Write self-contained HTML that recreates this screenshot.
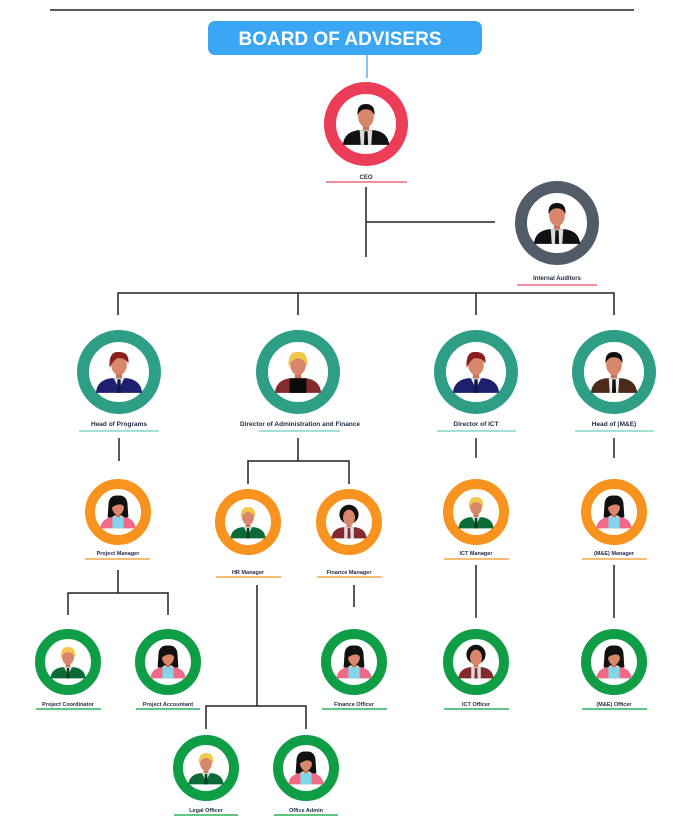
<!DOCTYPE html>
<html><head><meta charset="utf-8"><style>
html,body{margin:0;padding:0;background:#fff;}
svg{display:block}
text{font-family:"Liberation Sans",sans-serif;font-weight:bold;fill:#1f2a44;text-anchor:middle}
</style></head><body>
<svg width="687" height="818" viewBox="0 0 687 818" xmlns="http://www.w3.org/2000/svg">
<defs>
<g id="mblack">
 <rect x="-3" y="0" width="6" height="6" fill="#c87658"/>
 <path d="M-22,18 Q-21,6 -8,4 L8,4 Q21,6 22,18 Z" fill="#111"/>
 <path d="M-6,4 L6,4 L5,18 L-5,18 Z" fill="#ddd"/>
 <path d="M-1.5,5 L1.5,5 L2,18 L-2,18Z" fill="#111"/>
 <ellipse cx="0" cy="-9" rx="7.5" ry="10" fill="#d9876a"/>
 <path d="M-8,-10 Q-9,-21 0,-21 Q9,-21 8,-10 Q6,-16 0,-16 Q-6,-16 -8,-10Z" fill="#111"/>
</g>
<g id="mnavy">
 <rect x="-3" y="0" width="6" height="6" fill="#c87658"/>
 <path d="M-22,18 Q-21,6 -8,4 L8,4 Q21,6 22,18 Z" fill="#1e1f6e"/>
 <path d="M-5,4 L5,4 L0,14 Z" fill="#eee"/>
 <path d="M-1.5,5 L1.5,5 L2,18 L-2,18Z" fill="#111848"/>
 <ellipse cx="0" cy="-9" rx="7.5" ry="10" fill="#d9876a"/>
 <path d="M-9,-6 Q-10,-22 0,-21 Q10,-21 9,-10 Q6,-16 -2,-15 Q-6,-12 -9,-6Z" fill="#8a1f1f"/>
</g>
<g id="mblond">
 <rect x="-3" y="0" width="6" height="6" fill="#c87658"/>
 <path d="M-22,18 Q-21,6 -8,4 L8,4 Q21,6 22,18 Z" fill="#832a2e"/>
 <path d="M-8,4 L8,4 L8,18 L-8,18 Z" fill="#0a0a0a"/>
 <ellipse cx="0" cy="-9" rx="7.5" ry="10" fill="#d9876a"/>
 <path d="M-9,-6 Q-10,-22 0,-21 Q10,-22 9,-6 Q7,-14 0,-15 Q-7,-14 -9,-6Z" fill="#f2c84b"/>
</g>
<g id="mbrown">
 <rect x="-3" y="0" width="6" height="6" fill="#c87658"/>
 <path d="M-22,18 Q-21,6 -8,4 L8,4 Q21,6 22,18 Z" fill="#4a2a1a"/>
 <path d="M-5,4 L5,4 L4,18 L-4,18 Z" fill="#eee"/>
 <path d="M-1.5,5 L1.5,5 L2,18 L-2,18Z" fill="#111"/>
 <ellipse cx="0" cy="-9" rx="7.5" ry="10" fill="#d9876a"/>
 <path d="M-8,-10 Q-9,-21 0,-21 Q9,-21 8,-10 Q6,-16 0,-16 Q-6,-16 -8,-10Z" fill="#111"/>
</g>
<g id="mgreen">
 <rect x="-3" y="0" width="6" height="6" fill="#c87658"/>
 <path d="M-22,18 Q-21,6 -8,4 L8,4 Q21,6 22,18 Z" fill="#0a6b36"/>
 <path d="M-5,4 L5,4 L0,14 Z" fill="#eee"/>
 <path d="M-1.5,5 L1.5,5 L2,18 L-2,18Z" fill="#073d20"/>
 <ellipse cx="0" cy="-9" rx="7.5" ry="10" fill="#d9876a"/>
 <path d="M-9,-6 Q-10,-22 0,-21 Q10,-22 9,-8 Q6,-15 0,-15 Q-7,-14 -9,-6Z" fill="#f2c84b"/>
</g>
<g id="mmaroon">
 <rect x="-3" y="0" width="6" height="6" fill="#c87658"/>
 <path d="M-22,18 Q-21,6 -8,4 L8,4 Q21,6 22,18 Z" fill="#832a2e"/>
 <path d="M-6,4 L6,4 L6,18 L-6,18 Z" fill="#ddd"/>
 <path d="M-1.5,5 L1.5,5 L2,18 L-2,18Z" fill="#832a2e"/>
 <circle cx="0" cy="-12" r="12" fill="#111"/>
 <ellipse cx="0" cy="-8" rx="7.5" ry="10" fill="#d9876a"/>
</g>
<g id="fpink">
 <path d="M-12,-10 Q-12,-24 0,-23 Q12,-24 12,-10 L13,4 Q8,6 5,2 L-5,2 Q-8,6 -13,4Z" fill="#111"/>
 <rect x="-3" y="0" width="6" height="6" fill="#c87658"/>
 <path d="M-22,18 Q-21,6 -8,4 L8,4 Q21,6 22,18 Z" fill="#ef6a86"/>
 <path d="M-7,4 L7,4 L7,18 L-7,18 Z" fill="#82d6ea"/>
 <ellipse cx="0" cy="-9" rx="7.5" ry="10" fill="#d9876a"/>
 <path d="M-8,-8 Q-9,-20 0,-19 Q9,-20 8,-8 Q4,-16 -8,-8Z" fill="#111"/>
</g>
</defs>

<line x1="50" y1="10" x2="634" y2="10" stroke="#222" stroke-width="1.5"/>
<rect x="208" y="21" width="274" height="34" rx="7" fill="#3ba6f3"/>
<text x="340" y="45" style="font-size:19px;fill:#fff">BOARD OF ADVISERS</text>
<line x1="367" y1="55" x2="367" y2="78" stroke="#5aaff0" stroke-width="1.5"/>

<g stroke="#222" stroke-width="1.5" fill="none">
 <path d="M366,187 V257 M366,222 H495"/>
 <path d="M118,315 V293 H614 V315 M298,293 V315 M476,293 V315"/>
 <path d="M119,438 V461 M298,438 V461 M248,484 V461 H349 V484 M476,438 V458 M614,438 V458"/>
 <path d="M118,570 V593 M68,615 V593 H168 V615"/>
 <path d="M257,585 V706 M206,729 V706 H306 V729"/>
 <path d="M354,585 V607 M476,565 V618 M614,565 V618"/>
</g>

<!-- CEO -->
<circle cx="366" cy="124" r="36" fill="#fff" stroke="#ec3d58" stroke-width="12"/>
<use href="#mblack" transform="translate(366,126) scale(1.05)"/>
<text x="366" y="179" style="font-size:6px">CEO</text>
<line x1="326" y1="182" x2="407" y2="182" stroke="#f0697e" stroke-width="1.5"/>

<circle cx="557" cy="223" r="36" fill="#fff" stroke="#515c68" stroke-width="12"/>
<use href="#mblack" transform="translate(557,225) scale(1.05)"/>
<text x="557" y="280" style="font-size:6px">Internal Auditors</text>
<line x1="517" y1="285" x2="597" y2="285" stroke="#f0697e" stroke-width="1.5"/>

<!-- row 2 -->
<g fill="#fff" stroke="#2e9e86" stroke-width="12">
 <circle cx="119" cy="372" r="36"/><circle cx="298" cy="372" r="36"/>
 <circle cx="476" cy="372" r="36"/><circle cx="614" cy="372" r="36"/>
</g>
<use href="#mnavy" transform="translate(119,374) scale(1.05)"/>
<use href="#mblond" transform="translate(298,374) scale(1.05)"/>
<use href="#mnavy" transform="translate(476,374) scale(1.05)"/>
<use href="#mbrown" transform="translate(614,374) scale(1.05)"/>
<g style="font-size:6.5px">
<text x="119" y="426">Head of Programs</text>
<text x="300" y="426">Director of Administration and Finance</text>
<text x="476" y="426">Director of ICT</text>
<text x="614" y="426">Head of (M&amp;E)</text>
</g>
<g stroke="#7ed8cc" stroke-width="1.5">
<line x1="79" y1="431" x2="159" y2="431"/><line x1="259" y1="431" x2="340" y2="431"/>
<line x1="437" y1="431" x2="516" y2="431"/><line x1="575" y1="431" x2="654" y2="431"/>
</g>

<!-- row 3 -->
<g fill="#fff" stroke="#f7931e" stroke-width="10">
 <circle cx="118" cy="512" r="28"/><circle cx="248" cy="522" r="28"/>
 <circle cx="349" cy="522" r="28"/><circle cx="476" cy="512" r="28"/><circle cx="614" cy="512" r="28"/>
</g>
<use href="#fpink" transform="translate(118,514) scale(0.8)"/>
<use href="#mgreen" transform="translate(248,524) scale(0.8)"/>
<use href="#mmaroon" transform="translate(349,524) scale(0.8)"/>
<use href="#mgreen" transform="translate(476,514) scale(0.8)"/>
<use href="#fpink" transform="translate(614,514) scale(0.8)"/>
<g style="font-size:5.5px">
<text x="118" y="555">Project Manager</text>
<text x="248" y="574">HR Manager</text>
<text x="349" y="574">Finance Manager</text>
<text x="476" y="555">ICT Manager</text>
<text x="614" y="555">(M&amp;E) Manager</text>
</g>
<g stroke="#f7a54a" stroke-width="1.5">
<line x1="85" y1="559" x2="150" y2="559"/><line x1="216" y1="577" x2="281" y2="577"/>
<line x1="317" y1="577" x2="382" y2="577"/><line x1="444" y1="559" x2="509" y2="559"/>
<line x1="582" y1="559" x2="647" y2="559"/>
</g>

<!-- row 4/5 -->
<g fill="#fff" stroke="#0f9d45" stroke-width="10">
 <circle cx="68" cy="662" r="28"/><circle cx="168" cy="662" r="28"/>
 <circle cx="354" cy="662" r="28"/><circle cx="476" cy="662" r="28"/><circle cx="614" cy="662" r="28"/>
 <circle cx="206" cy="768" r="28"/><circle cx="306" cy="768" r="28"/>
</g>
<use href="#mgreen" transform="translate(68,664) scale(0.8)"/>
<use href="#fpink" transform="translate(168,664) scale(0.8)"/>
<use href="#fpink" transform="translate(354,664) scale(0.8)"/>
<use href="#mmaroon" transform="translate(476,664) scale(0.8)"/>
<use href="#fpink" transform="translate(614,664) scale(0.8)"/>
<use href="#mgreen" transform="translate(206,770) scale(0.8)"/>
<use href="#fpink" transform="translate(306,770) scale(0.8)"/>
<g style="font-size:5.5px">
<text x="68" y="706">Project Coordinator</text>
<text x="168" y="706">Project Accountant</text>
<text x="354" y="706">Finance Officer</text>
<text x="476" y="706">ICT Officer</text>
<text x="614" y="706">(M&amp;E) Officer</text>
<text x="206" y="812">Legal Officer</text>
<text x="306" y="812">Office Admin</text>
</g>
<g stroke="#2db35a" stroke-width="1.5">
<line x1="36" y1="709" x2="101" y2="709"/><line x1="136" y1="709" x2="200" y2="709"/>
<line x1="322" y1="709" x2="387" y2="709"/><line x1="444" y1="709" x2="509" y2="709"/>
<line x1="582" y1="709" x2="647" y2="709"/>
<line x1="174" y1="815" x2="238" y2="815"/><line x1="274" y1="815" x2="338" y2="815"/>
</g>
</svg>
</body></html>
